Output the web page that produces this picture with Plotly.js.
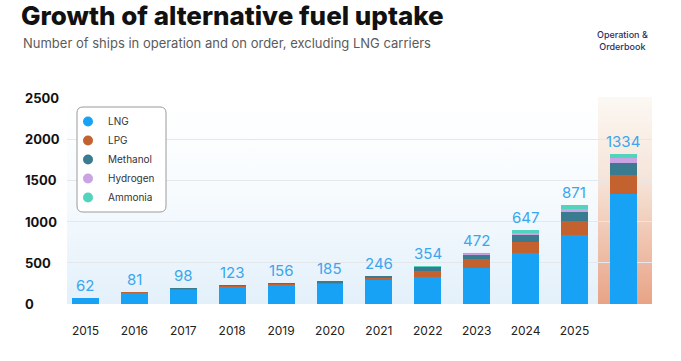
<!DOCTYPE html>
<html>
<head>
<meta charset="utf-8">
<script src="https://cdn.plot.ly/plotly-3.0.1.min.js"></script>
<style>
html,body{margin:0;padding:0;background:#fff;}
#chart{width:681px;height:361px;}
</style>
</head>
<body>
<div id="chart"></div>
<script>
// ---- data ----
const categories = ['2015','2016','2017','2018','2019','2020','2021','2022','2023','2024','2025','Operation & Orderbook'];
const tickLabels = ['2015','2016','2017','2018','2019','2020','2021','2022','2023','2024','2025',''];
const lng      = [70, 135, 170, 205, 225, 245, 290, 333, 443, 618, 833, 1329];
const lpg      = [0,  10,  10,  12,  12,  15,  25,  73,  102, 130, 171, 235];
const methanol = [0,  5,   11,  15,  15,  17,  20,  40,  52,  94,  110, 151];
const hydrogen = [0,  0,   0,   0,   0,   0,   6,   8,   8,   24,  45,  61];
const ammonia  = [0,  0,   0,   0,   0,   0,   0,   5,   12,  28,  40,  44];
const barLabels = [62, 81, 98, 123, 156, 185, 246, 354, 472, 647, 871, 1334];
const yTicks = [0, 500, 1000, 1500, 2000, 2500];

// ---- styles ----
const seriesDefs = [
  {name:'LNG', values:lng, color:'#17a2f5'},
  {name:'LPG', values:lpg, color:'#c4622f'},
  {name:'Methanol', values:methanol, color:'#3a7b90'},
  {name:'Hydrogen', values:hydrogen, color:'#c9a3e4'},
  {name:'Ammonia', values:ammonia, color:'#52d3bb'}
];
const FONT = 'Inter, "Open Sans", sans-serif';

const xRange = [-0.378, 11.585];
const yRange = [0, 2500];

const traces = [];
seriesDefs.forEach(s => {
  traces.push({
    type:'bar', x:categories, y:s.values, name:s.name,
    marker:{color:s.color, line:{width:0}},
    width:0.55, showlegend:false, hoverinfo:'skip'
  });
});
// legend-only entries with circle markers
seriesDefs.forEach(s => {
  traces.push({
    type:'scatter', mode:'markers', x:[null], y:[null], name:s.name,
    marker:{color:s.color, size:10, symbol:'circle'}, showlegend:true
  });
});

const totals = categories.map((c,i)=>seriesDefs.reduce((a,s)=>a+s.values[i],0));

function pxToPaperX(px){return (px-67)/585;}
function pxToPaperY(py){return (304-py)/206;}

const annotations = [];
categories.forEach((c,i)=>{
  annotations.push({
    x:i, y:totals[i], xref:'x', yref:'y', text:String(barLabels[i]),
    showarrow:false, yanchor:'bottom', yshift:1,
    font:{family:FONT, size:15, color:'#3aa6ef'}
  });
});
yTicks.forEach(v=>{
  annotations.push({
    x:(23-67)/585, xref:'paper', y:v, yref:'y', text:String(v),
    showarrow:false, xanchor:'left', yanchor:'middle',
    font:{family:FONT, size:13, color:'#111', weight:700}
  });
});
annotations.push({
  x:pxToPaperX(622), xref:'paper', y:pxToPaperY(40.5), yref:'paper', text:'Operation &amp;<br>Orderbook',
  showarrow:false, xanchor:'center', yanchor:'middle', align:'center',
  font:{family:FONT, size:9, color:'#2b2e5c', weight:500}
});
// subtitle
annotations.push({
  xref:'paper', yref:'paper', x:pxToPaperX(21), y:pxToPaperY(43), xanchor:'left', yanchor:'middle',
  text:'Number of ships in operation and on order, excluding LNG carriers', showarrow:false,
  font:{family:FONT, size:13, color:'#5b5b5b', weight:400}
});

function svgURI(svg){return 'data:image/svg+xml;charset=utf-8,'+encodeURIComponent(svg);}
const bgSvg = "<svg xmlns='http://www.w3.org/2000/svg' width='10' height='100' viewBox='0 0 10 100' preserveAspectRatio='none'><defs><linearGradient id='g' x1='0' y1='0' x2='0' y2='1'><stop offset='0' stop-color='#ffffff'/><stop offset='0.45' stop-color='#f7fbfe'/><stop offset='1' stop-color='#e3f0fa'/></linearGradient></defs><rect width='10' height='100' fill='url(#g)'/></svg>";
const hlSvg = "<svg xmlns='http://www.w3.org/2000/svg' width='10' height='100' viewBox='0 0 10 100' preserveAspectRatio='none'><defs><linearGradient id='h' x1='0' y1='0' x2='0' y2='1'><stop offset='0' stop-color='#fcf8f3'/><stop offset='0.4' stop-color='#f6e4d8'/><stop offset='1' stop-color='#e8a386'/></linearGradient></defs><rect width='10' height='100' fill='url(#h)'/></svg>";
const span = xRange[1]-xRange[0];
const hlStart = (categories.length-1) - 0.52;
const hlX0 = (hlStart - xRange[0])/span;

// rounded legend box
const lx0=pxToPaperX(77), lx1=pxToPaperX(166), ly1=pxToPaperY(107), ly0=pxToPaperY(212);
const rx=6/585, ry=6/206;
const boxPath = `M ${lx0+rx},${ly1} L ${lx1-rx},${ly1} Q ${lx1},${ly1} ${lx1},${ly1-ry} L ${lx1},${ly0+ry} Q ${lx1},${ly0} ${lx1-rx},${ly0} L ${lx0+rx},${ly0} Q ${lx0},${ly0} ${lx0},${ly0+ry} L ${lx0},${ly1-ry} Q ${lx0},${ly1} ${lx0+rx},${ly1} Z`;

const layout = {
  width:681, height:361,
  margin:{l:67, r:29, t:98, b:57},
  paper_bgcolor:'#ffffff', plot_bgcolor:'rgba(0,0,0,0)',
  barmode:'stack',
  title:{text:'Growth of alternative fuel uptake', x:21/681, xref:'container', xanchor:'left',
         y:1-7/361, yref:'container', yanchor:'top',
         font:{family:FONT, size:26, color:'#111', weight:800}},
  xaxis:{type:'category', range:xRange, tickmode:'array', tickvals:categories, ticktext:tickLabels,
         showgrid:false, zeroline:false, showline:false, ticks:'', ticklabelstandoff:18,
         tickfont:{family:FONT, size:12, color:'#222'}, fixedrange:true},
  yaxis:{range:yRange, tickvals:yTicks, showticklabels:false, showgrid:true, gridcolor:'#e4e8ec',
         gridwidth:1, zeroline:false, showline:false, fixedrange:true},
  legend:{x:pxToPaperX(68), y:pxToPaperY(107), xanchor:'left', yanchor:'top', traceorder:'normal',
          bgcolor:'rgba(0,0,0,0)', borderwidth:0, font:{family:FONT, size:10, color:'#333'},
          tracegroupgap:0, itemclick:false},
  annotations:annotations,
  shapes:[{type:'path', xref:'paper', yref:'paper', path:boxPath, fillcolor:'#ffffff',
           line:{color:'#9a9a9a', width:1}, layer:'above'}],
  images:[
    {source:svgURI(bgSvg), xref:'paper', yref:'paper', x:0, y:1, sizex:1, sizey:1,
     xanchor:'left', yanchor:'top', sizing:'stretch', layer:'below'},
    {source:svgURI(hlSvg), xref:'paper', yref:'paper', x:hlX0, y:1.005, sizex:1-hlX0, sizey:1.005,
     xanchor:'left', yanchor:'top', sizing:'stretch', layer:'below'}
  ],
  hovermode:false, showlegend:true
};
Plotly.newPlot('chart', traces, layout, {displayModeBar:false, staticPlot:true});
</script>
</body>
</html>
